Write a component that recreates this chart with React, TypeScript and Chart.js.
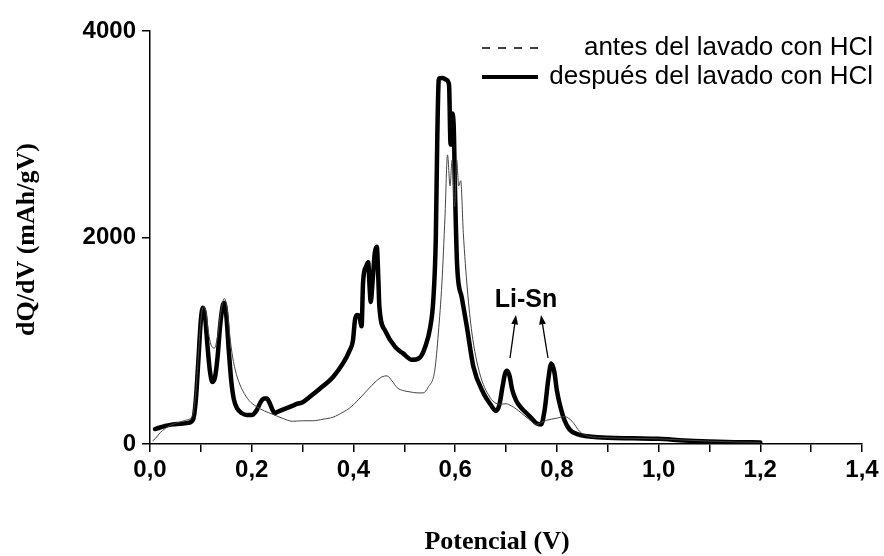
import React, { useEffect, useRef } from "react";
import { Chart, registerables } from "chart.js";

Chart.register(...registerables);

// Potential (V) / dQ/dV (mAh/gV) after HCl washing
const despuesX = [
  0.01, 0.02, 0.03, 0.045, 0.06, 0.075, 0.085, 0.09, 0.095, 0.1, 0.104, 0.108, 0.113, 0.118, 0.123,
  0.128, 0.133, 0.138, 0.143, 0.146, 0.15, 0.155, 0.16, 0.165, 0.172, 0.18, 0.19, 0.2, 0.21, 0.218,
  0.225, 0.23, 0.235, 0.24, 0.245, 0.25, 0.26, 0.27, 0.28, 0.29, 0.3, 0.315, 0.335, 0.36, 0.38,
  0.392, 0.399, 0.403, 0.407, 0.412, 0.416, 0.419, 0.425, 0.429, 0.432, 0.434, 0.438, 0.442, 0.446,
  0.449, 0.451, 0.462, 0.482, 0.497, 0.515, 0.531, 0.541, 0.551, 0.557, 0.562, 0.565, 0.568, 0.575,
  0.582, 0.588, 0.591, 0.594, 0.597, 0.6, 0.604, 0.613, 0.623, 0.636, 0.656, 0.67, 0.68, 0.687,
  0.693, 0.698, 0.702, 0.707, 0.712, 0.72, 0.73, 0.74, 0.75, 0.76, 0.769, 0.776, 0.783, 0.789,
  0.795, 0.8, 0.807, 0.815, 0.825, 0.84, 0.86, 0.88, 0.9, 0.95, 1.0, 1.05, 1.1, 1.15, 1.2,
];
const despuesY = [
  145, 160, 175, 190, 195, 205, 240, 420, 800, 1200, 1320, 1250, 950, 700, 600,
  650, 850, 1150, 1340, 1365, 1250, 900, 600, 430, 340, 300, 280, 280, 330, 410,
  440, 440, 400, 340, 300, 310, 330, 350, 370, 390, 405, 460, 540, 650, 785,
  900, 1000, 1200, 1250, 1230, 1140, 1570, 1720, 1760, 1500, 1375, 1600, 1850, 1910,
  1600, 1330, 1100, 940, 880, 815, 840, 940, 1130, 1390, 2000, 3000, 3540, 3545,
  3530, 3480, 2900, 3200, 3100, 2400, 1720, 1420, 1136, 745, 490, 380, 320, 380,
  550, 680, 710, 660, 530, 420, 350, 300, 250, 200, 190, 330, 620, 780,
  700, 520, 360, 230, 140, 95, 75, 65, 60, 55, 50, 35, 25, 18, 15,
];

// Potential (V) / dQ/dV (mAh/gV) before HCl washing
const antesX = [
  0.005, 0.01, 0.02, 0.03, 0.04, 0.05, 0.06, 0.07, 0.08, 0.085, 0.09, 0.095, 0.1, 0.105, 0.11,
  0.115, 0.12, 0.127, 0.133, 0.14, 0.146, 0.152, 0.158, 0.164, 0.172, 0.182, 0.195, 0.21, 0.225,
  0.24, 0.26, 0.28, 0.3, 0.32, 0.34, 0.36, 0.38, 0.393, 0.41, 0.427, 0.445, 0.456, 0.466, 0.476,
  0.486, 0.5, 0.511, 0.525, 0.537, 0.547, 0.56, 0.567, 0.574, 0.58, 0.585, 0.59, 0.594, 0.599,
  0.603, 0.607, 0.611, 0.616, 0.624, 0.633, 0.648, 0.668, 0.68, 0.69, 0.7, 0.71, 0.72, 0.73,
  0.745, 0.76, 0.77, 0.78, 0.8, 0.815, 0.83, 0.845, 0.86, 0.88, 0.9, 0.95, 1.0, 1.05, 1.1,
  1.15, 1.2,
];
const antesY = [
  30, 50, 110, 150, 180, 200, 215, 230, 250, 300, 500, 850, 1200, 1330, 1280,
  1080, 960, 930, 1050, 1300, 1410, 1300, 1000, 800, 640, 520, 420, 360, 320,
  290, 250, 220, 225, 225, 240, 260, 310, 350, 430, 520, 610, 650, 660, 610,
  545, 515, 505, 495, 495, 550, 715, 1075, 1560, 2200, 2800, 2500, 2750, 2300,
  2750, 2500, 2550, 2050, 1500, 1075, 690, 455, 395, 385, 390, 370, 340, 300,
  240, 190, 210, 230, 250, 265, 220, 120, 80, 65, 60, 55, 50, 38, 28,
  20, 15,
];

const xTicksMin = 0;
const xTicksMax = 1.4;
const yTicksMax = 4000;

const legendLabels = ["antes del lavado con HCl", "después del lavado con HCl"];
const annotationLabel = "Li-Sn";
const xTitle = "Potencial (V)";
const yTitle = "dQ/dV (mAh/gV)";

const sans = '"Liberation Sans", Arial, sans-serif';
const serif = '"Liberation Serif", "Times New Roman", serif';

function arrow(ctx: CanvasRenderingContext2D, x0: number, y0: number, x1: number, y1: number) {
  const ang = Math.atan2(y1 - y0, x1 - x0);
  const head = 10;
  const spread = 0.35;
  ctx.beginPath();
  ctx.moveTo(x0, y0);
  ctx.lineTo(x1 - Math.cos(ang) * head * 0.6, y1 - Math.sin(ang) * head * 0.6);
  ctx.stroke();
  ctx.beginPath();
  ctx.moveTo(x1, y1);
  ctx.lineTo(x1 - head * Math.cos(ang - spread), y1 - head * Math.sin(ang - spread));
  ctx.lineTo(x1 - head * Math.cos(ang + spread), y1 - head * Math.sin(ang + spread));
  ctx.closePath();
  ctx.fill();
}

const decorations = {
  id: "decorations",
  afterDraw(chart: any) {
    const ctx = chart.ctx as CanvasRenderingContext2D;
    const { chartArea } = chart;
    ctx.save();
    ctx.fillStyle = "#000";
    ctx.strokeStyle = "#000";

    // legend
    ctx.lineWidth = 1.5;
    ctx.setLineDash([8, 8]);
    ctx.beginPath();
    ctx.moveTo(482, 48);
    ctx.lineTo(538, 48);
    ctx.stroke();
    ctx.setLineDash([]);
    ctx.lineWidth = 4;
    ctx.beginPath();
    ctx.moveTo(482, 77);
    ctx.lineTo(538, 77);
    ctx.stroke();
    ctx.font = `26px ${sans}`;
    ctx.textAlign = "right";
    ctx.textBaseline = "middle";
    ctx.fillText(legendLabels[0], 873, 48);
    ctx.fillText(legendLabels[1], 873, 77);

    // Li-Sn annotation
    ctx.font = `bold 25px ${sans}`;
    ctx.textAlign = "center";
    ctx.fillText(annotationLabel, 526, 300);
    ctx.lineWidth = 1.3;
    arrow(ctx, 510, 358, 516, 315);
    arrow(ctx, 548, 358, 541, 315);

    // axis titles
    ctx.font = `bold 26px ${serif}`;
    ctx.textAlign = "center";
    ctx.textBaseline = "middle";
    ctx.fillText(xTitle, 497, 542);
    ctx.translate(27, (chartArea.top + chartArea.bottom) / 2 + 2);
    ctx.rotate(-Math.PI / 2);
    ctx.fillText(yTitle, 0, 0);
    ctx.restore();
  },
};

export default function App() {
  const ref = useRef<HTMLCanvasElement | null>(null);

  useEffect(() => {
    if (!ref.current) return;
    const antes = antesX.map((x, i) => ({ x, y: antesY[i] }));
    const despues = despuesX.map((x, i) => ({ x, y: despuesY[i] }));
    const chart = new Chart(ref.current, {
      type: "line",
      data: {
        datasets: [
          {
            label: legendLabels[0],
            data: antes,
            borderColor: "#444",
            borderWidth: 1,
            pointRadius: 0,
            cubicInterpolationMode: "monotone",
          },
          {
            label: legendLabels[1],
            data: despues,
            borderColor: "#000",
            borderWidth: 4.5,
            pointRadius: 0,
            borderJoinStyle: "round",
            borderCapStyle: "round",
            cubicInterpolationMode: "monotone",
          },
        ],
      },
      options: {
        responsive: false,
        animation: false,
        events: [],
        layout: { padding: { left: 0, right: 22, top: 31, bottom: 0 } },
        plugins: { legend: { display: false }, tooltip: { enabled: false } },
        scales: {
          x: {
            type: "linear",
            min: xTicksMin,
            max: xTicksMax,
            afterFit: (s: any) => {
              s.height = 112;
            },
            ticks: {
              stepSize: 0.1,
              autoSkip: false,
              maxRotation: 0,
              padding: 4,
              color: "#000",
              font: { family: sans, size: 24, weight: "bold" },
              callback: (v: any) => {
                const n = Math.round(Number(v) * 10);
                return n % 2 === 0 ? (n / 10).toFixed(1).replace(".", ",") : "";
              },
            },
            grid: { drawOnChartArea: false, tickLength: 8, color: "#000", lineWidth: 1.5 },
            border: { display: true, color: "#000", width: 1.5 },
          },
          y: {
            min: 0,
            max: yTicksMax,
            afterFit: (s: any) => {
              s.width = 150;
            },
            ticks: {
              stepSize: 2000,
              padding: 6,
              color: "#000",
              font: { family: sans, size: 24, weight: "bold" },
              callback: (v: any) => String(Math.round(Number(v))),
            },
            grid: { drawOnChartArea: false, tickLength: 8, color: "#000", lineWidth: 1.5 },
            border: { display: true, color: "#000", width: 1.5 },
          },
        },
      },
      plugins: [decorations],
    });
    return () => chart.destroy();
  }, []);

  return (
    <div style={{ position: "fixed", left: 0, top: 0, width: 884, height: 556, background: "#fff" }}>
      <canvas ref={ref} width={884} height={556} style={{ display: "block" }} />
    </div>
  );
}
